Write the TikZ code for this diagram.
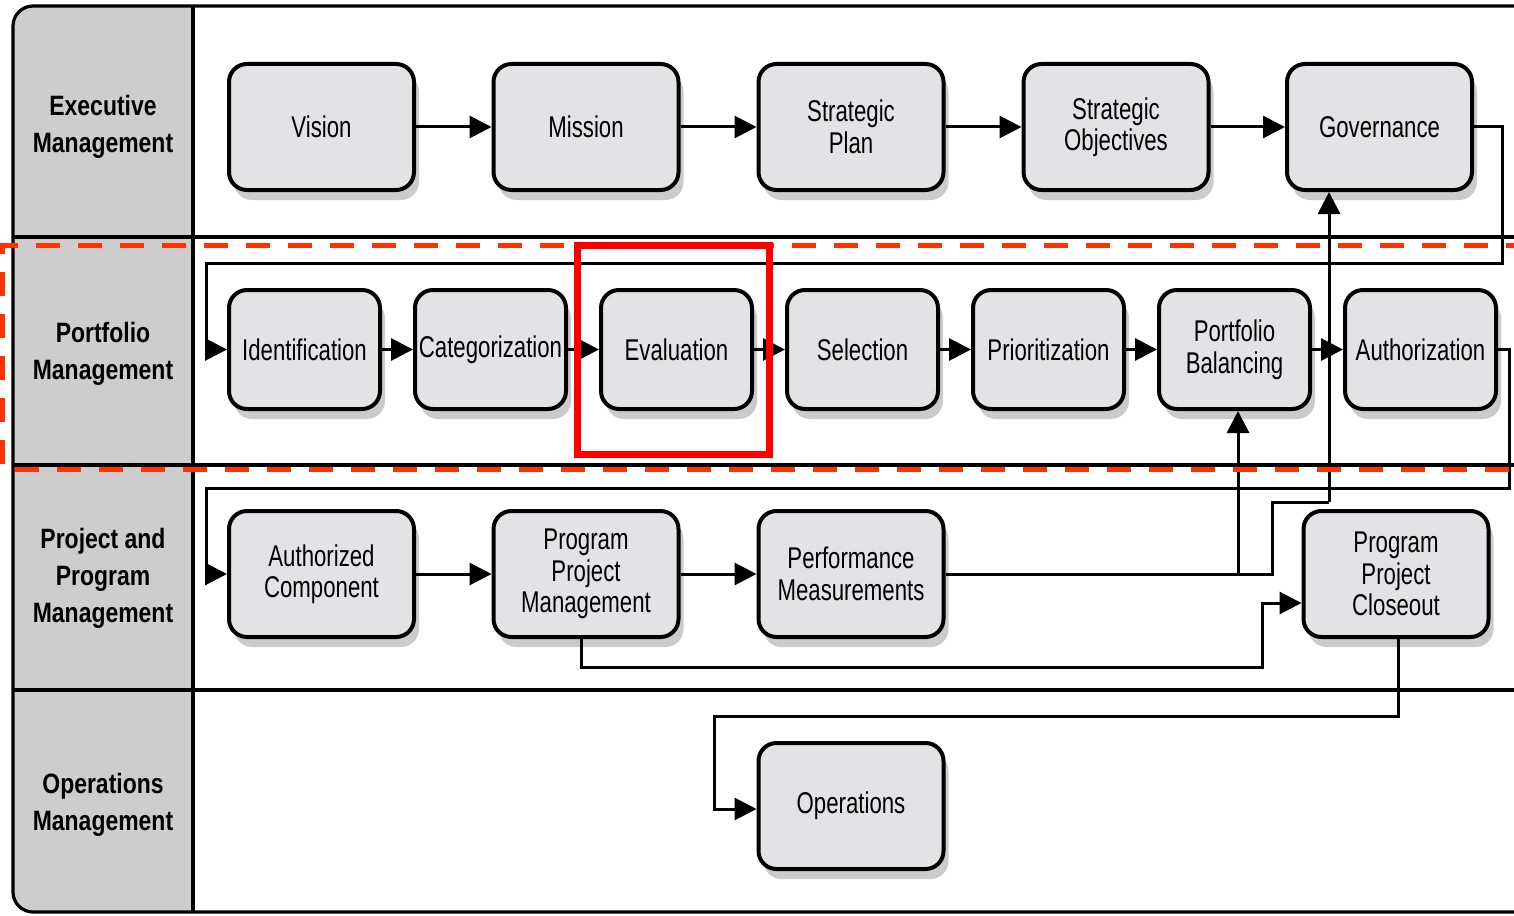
\documentclass[tikz,border=0pt]{standalone}
\usepackage{fontspec}
\setmainfont{Liberation Sans}[FakeStretch=0.82]
\newfontfamily\boxfont{Liberation Sans}[FakeStretch=0.74]
\usetikzlibrary{arrows.meta,shadows}
\definecolor{lanegray}{HTML}{CDCDCD}
\definecolor{boxgray}{HTML}{E3E3E5}
\definecolor{shadegray}{HTML}{CBCBCB}
\definecolor{dashred}{HTML}{FF3300}
\definecolor{markred}{HTML}{FF0000}
\tikzset{
  procbox/.style={draw=black, line width=2pt, fill=boxgray, rounded corners=9pt,
    align=center, inner sep=0pt, font=\boxfont\fontsize{15}{15.75}\selectfont,
    drop shadow={shadow xshift=2.5pt, shadow yshift=-5pt, fill=shadegray, opacity=1}},
  wide/.style={procbox, minimum width=92.5pt, minimum height=63pt},
  narrow/.style={procbox, minimum width=75.5pt, minimum height=59.5pt},
  lanelabel/.style={align=center, font=\fontsize{14}{18.5}\selectfont\bfseries},
  frame/.style={line width=1.6pt, draw=black},
  flow/.style={line width=1.5pt, draw=black, -{Triangle[length=11pt,width=11pt]}},
  plain/.style={line width=1.5pt, draw=black},
}
\begin{document}
\begin{tikzpicture}[x=0.5pt, y=-0.5pt]
\useasboundingbox (0,0) rectangle (1514,915);
\begin{scope}
\clip (0,0) rectangle (1514,915);

% swimlane frame and label column
\begin{scope}
  \clip[rounded corners=10pt] (13,6) rectangle (1700,912);
  \fill[lanegray] (13,6) rectangle (193,912);
\end{scope}
\draw[frame, rounded corners=10pt] (1700,6) -- (13,6) -- (13,912) -- (1700,912);
\draw[frame] (193,6) -- (193,912);
\draw[frame] (13,237) -- (1700,237);
\draw[frame] (13,465) -- (1700,465);
\draw[frame] (13,690) -- (1700,690);

% lane labels
\node[lanelabel] (lexec) at (103,127) {Executive\\Management};
\node[lanelabel] (lport) at (103,354) {Portfolio\\Management};
\node[lanelabel] (lproj) at (103,578) {Project and\\Program\\Management};
\node[lanelabel] (lops)  at (103,805) {Operations\\Management};

% executive management
\node[wide] (vision)  at (321.5,127) {Vision};
\node[wide] (mission) at (586,127)   {Mission};
\node[wide] (splan)   at (851,127)   {Strategic\\Plan};
\node[wide] (sobj)    at (1116,127)  {Strategic\\Objectives};
\node[wide] (gov)     at (1379.5,127){Governance};

% portfolio management
\node[narrow] (ident) at (304.5,349.5)  {Identification};
\node[narrow] (categ) at (490.5,349.5)  {Categorization};
\node[narrow] (eval)  at (676.5,349.5)  {Evaluation};
\node[narrow] (sel)   at (862.5,349.5)  {Selection};
\node[narrow] (prio)  at (1048.5,349.5) {Prioritization};
\node[narrow] (pbal)  at (1234.5,349.5) {Portfolio\\Balancing};
\node[narrow] (auth)  at (1420.5,349.5) {Authorization};

% project and program management
\node[wide] (acomp) at (321.5,574) {Authorized\\Component};
\node[wide] (ppm)   at (586,574)   {Program\\Project\\Management};
\node[wide] (perf)  at (851,574)   {Performance\\Measurements};
\node[wide] (ppc)   at (1396,574)  {Program\\Project\\Closeout};

% operations management
\node[wide] (ops) at (851,806) {Operations};

% routing points
\coordinate (r1) at (1502,263);
\coordinate (r2) at (206,263);
\coordinate (r3) at (1509,488);
\coordinate (r4) at (206,488);
\coordinate (j1) at (1238,574);
\coordinate (r5) at (1272,502);
\coordinate (r6) at (1329,502);
\coordinate (r7) at (581,667);
\coordinate (r8) at (1262,667);
\coordinate (r9) at (1262,603);
\coordinate (r10) at (1398,716);
\coordinate (r11) at (714,716);

% executive flow
\draw[flow] (vision.east) -- (mission.west);
\draw[flow] (mission.east) -- (splan.west);
\draw[flow] (splan.east) -- (sobj.west);
\draw[flow] (sobj.east) -- (gov.west);
\draw[flow] (gov.east) -| (r1) -- (r2) |- (ident.west);

% portfolio flow
\draw[flow] (ident.east) -- (categ.west);
\draw[flow] (categ.east) -- (eval.west);
\draw[flow] (eval.east) -- (sel.west);
\draw[flow] (sel.east) -- (prio.west);
\draw[flow] (prio.east) -- (pbal.west);
\draw[flow] (pbal.east) -- (auth.west);
\draw[flow] (auth.east) -| (r3) -- (r4) |- (acomp.west);

% project and program flow
\draw[flow] (acomp.east) -- (ppm.west);
\draw[flow] (ppm.east) -- (perf.west);
\draw[plain] (perf.east) -| (r5) -- (r6);
\draw[flow] (r6) -- (r6 |- gov.south);
\draw[flow] (j1) -- (j1 |- pbal.south);
\draw[flow] (r7 |- ppm.south) -- (r7) -- (r8) -- (r9) -- (r9 -| ppc.west);
\draw[flow] (r10 |- ppc.south) -- (r10) -- (r11) |- ([yshift=-1.5pt]ops.west);

% highlighted portfolio lane and step
\draw[dashred, line width=2.2pt, dash pattern=on 12pt off 9pt, dash phase=-1pt]
  (1700,245.5) -- (2.5,245.5) -- (2.5,469.5) -- (1700,469.5);
\draw[markred, line width=3.5pt] (577,245.5) rectangle (769,454);
\end{scope}
\end{tikzpicture}
\end{document}
